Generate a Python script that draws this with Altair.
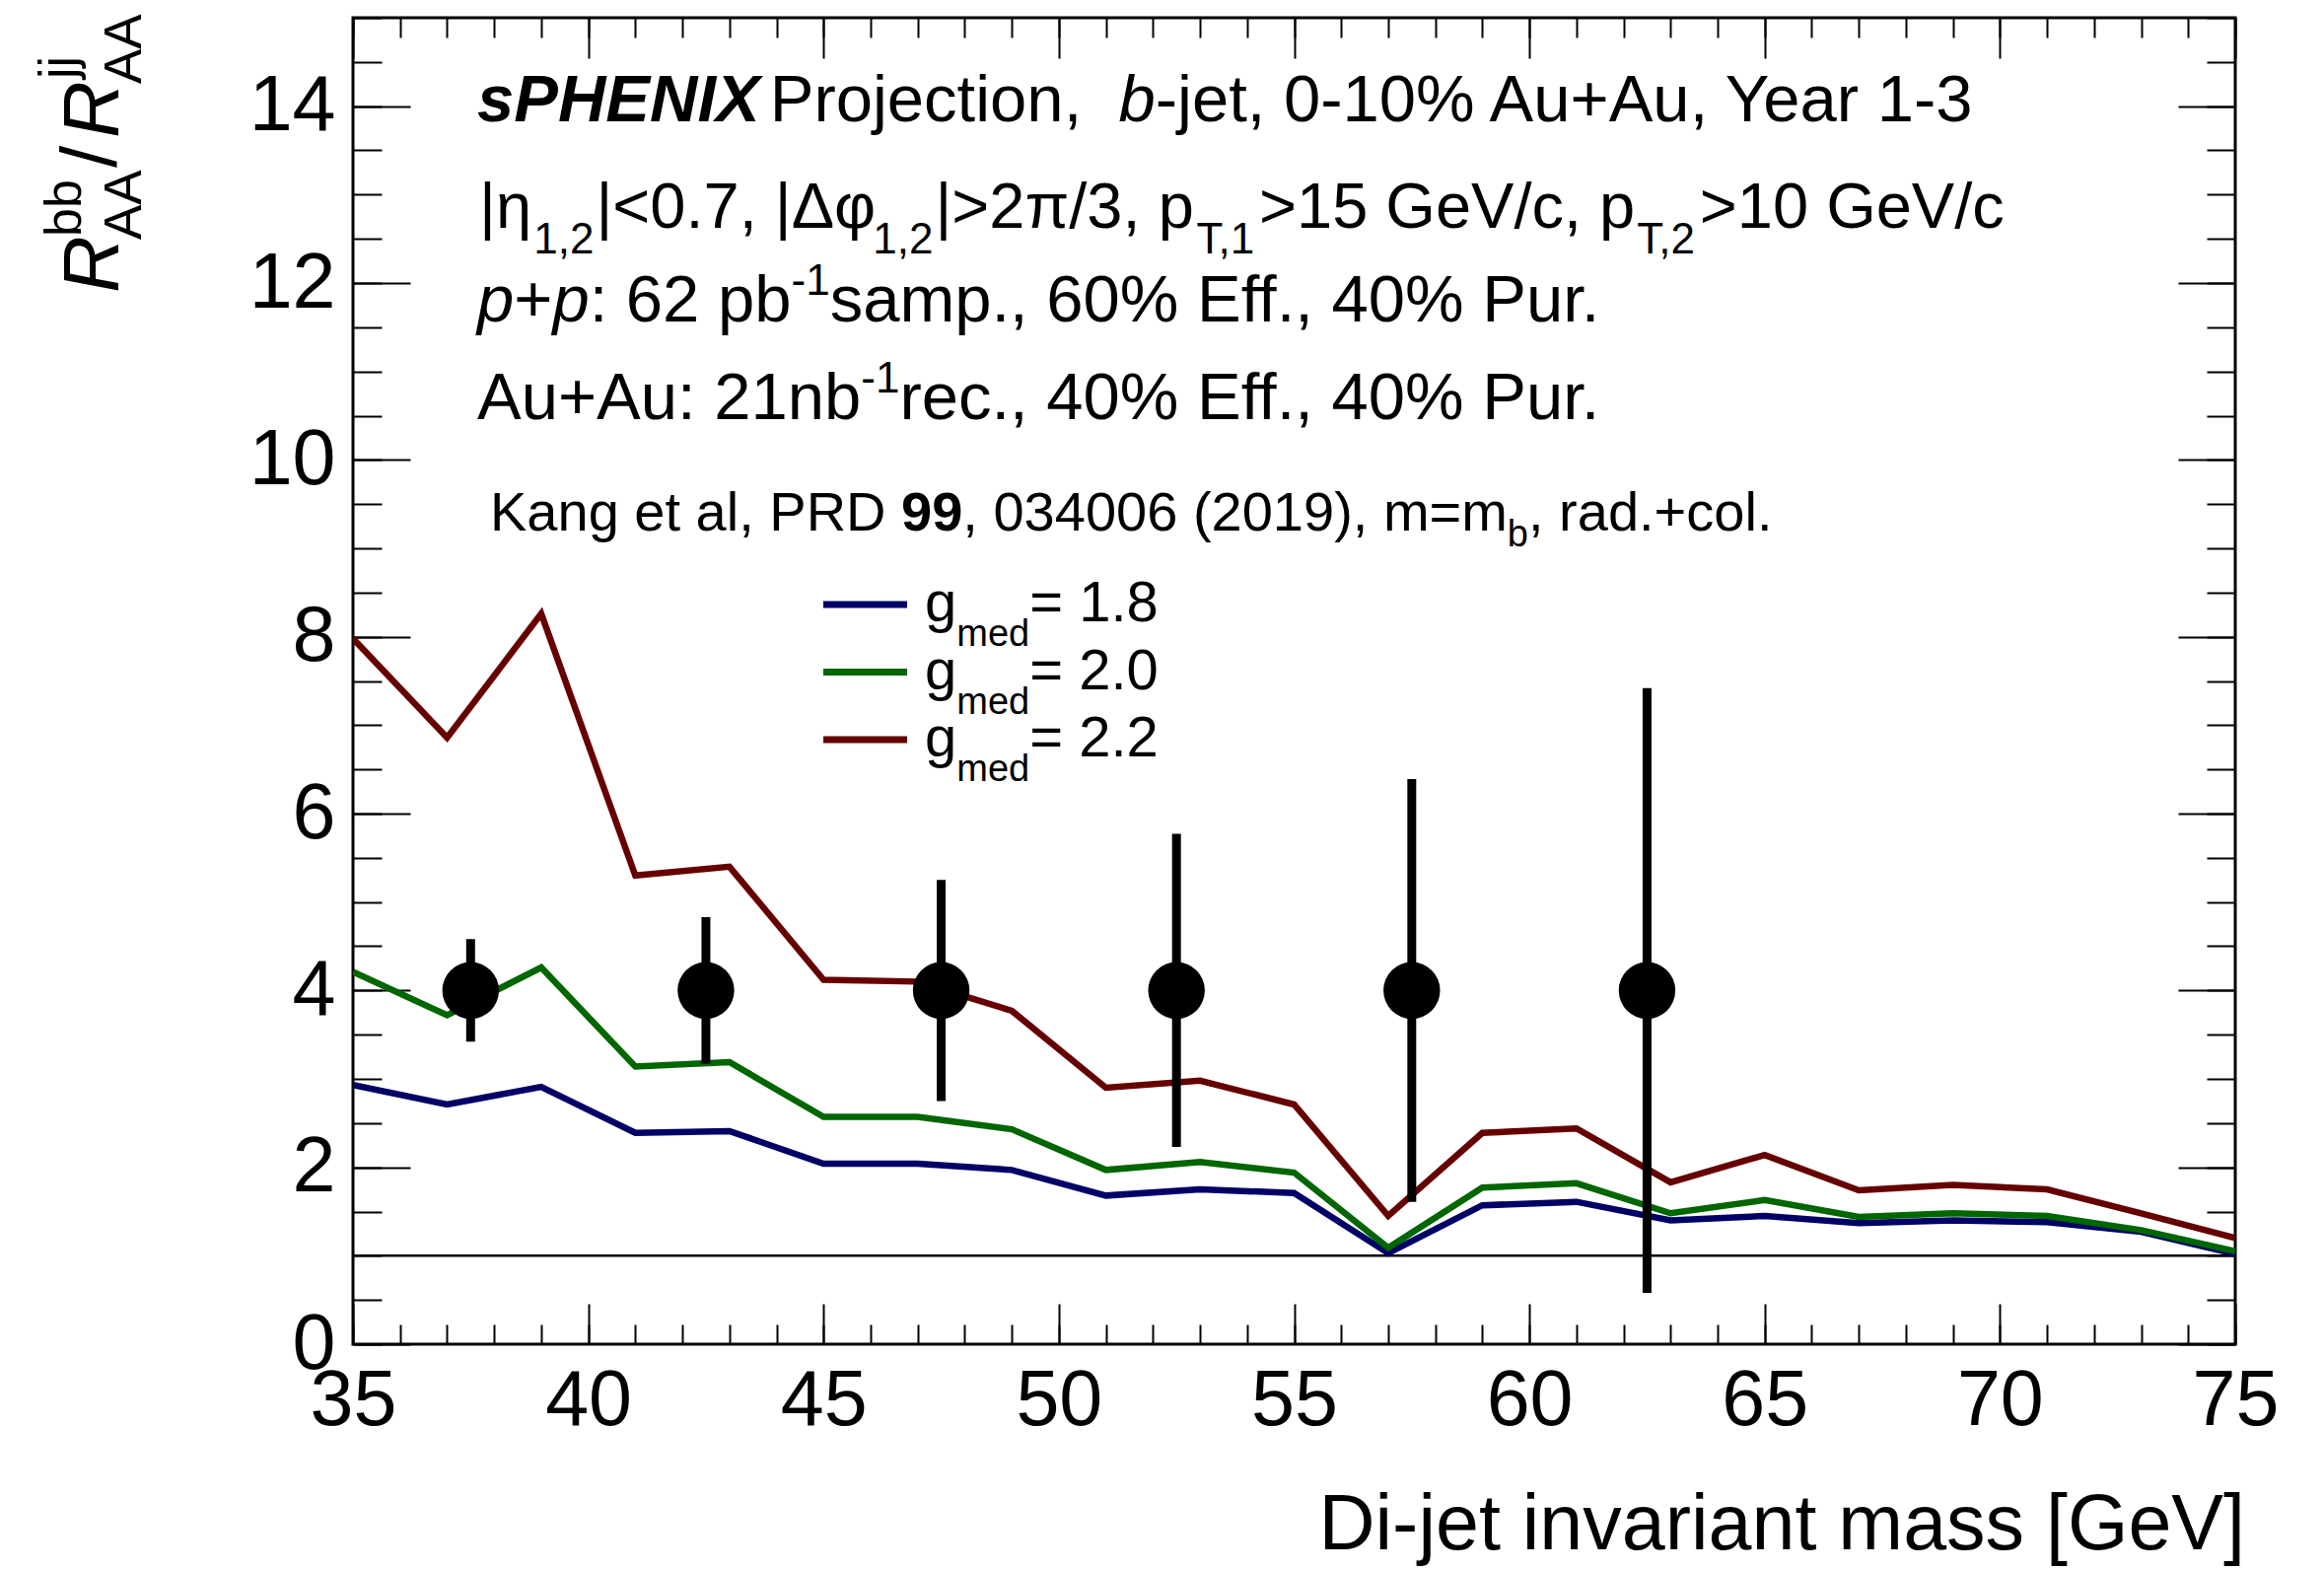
import altair as alt
import pandas as pd

# ---------------- data ----------------
mass = [35, 37, 39, 41, 43, 45, 47, 49, 51, 53, 55, 57, 59, 61, 63, 65, 67, 69, 71, 73, 75]
raa_g18 = [2.93, 2.71, 2.91, 2.39, 2.41, 2.04, 2.04, 1.97, 1.68, 1.75, 1.71, 1.03, 1.57, 1.61, 1.40, 1.45, 1.37, 1.40, 1.38, 1.27, 1.02]
raa_g20 = [4.21, 3.72, 4.26, 3.14, 3.19, 2.57, 2.57, 2.43, 1.97, 2.06, 1.94, 1.09, 1.77, 1.82, 1.48, 1.63, 1.44, 1.48, 1.45, 1.29, 1.05]
raa_g22 = [7.98, 6.86, 8.26, 5.30, 5.40, 4.12, 4.10, 3.77, 2.90, 2.98, 2.71, 1.45, 2.39, 2.44, 1.83, 2.14, 1.74, 1.80, 1.75, 1.48, 1.20]
series_names = ["g18", "g20", "g22"]
series_values = ["1.8", "2.0", "2.2"]
series_colors = ["#000066", "#006600", "#660000"]

proj_mass = [37.5, 42.5, 47.5, 52.5, 57.5, 62.5]
proj_value = [4.0, 4.0, 4.0, 4.0, 4.0, 4.0]
proj_err = [0.58, 0.83, 1.25, 1.77, 2.39, 3.42]

ref_level = [1.0]
x_domain = [35, 75]
y_domain = [0, 15]
x_major = [35, 40, 45, 50, 55, 60, 65, 70, 75]
x_minor = list(range(35, 76))
y_major = [0, 2, 4, 6, 8, 10, 12, 14]
y_minor = [v / 2 for v in range(0, 31)]

# ---------------- layout ----------------
FULL_W, FULL_H = 2357, 1592
OX, OY = 358, 18
W, H = 1909, 1345
FONT = "Liberation Sans"

xs = alt.Scale(domain=x_domain, nice=False, zero=False)
ys = alt.Scale(domain=y_domain, nice=False, zero=False)
pxs = alt.Scale(domain=[0, W], nice=False, zero=False)
pys = alt.Scale(domain=[0, H], nice=False, zero=False, reverse=True)

# Helvetica / Arial advance widths (1/1000 em)
W_N = {' ': 278, '%': 889, '(': 333, ')': 333, '+': 584, ',': 278, '-': 333, '.': 278, '/': 278,
       ':': 278, '<': 584, '=': 584, '>': 584, '[': 278, ']': 278, '|': 260,
       'A': 667, 'D': 722, 'E': 667, 'F': 611, 'G': 778, 'H': 722, 'I': 278, 'K': 667, 'N': 722,
       'P': 667, 'R': 722, 'T': 611, 'V': 667, 'X': 667, 'Y': 667,
       'a': 556, 'b': 556, 'c': 500, 'd': 556, 'e': 556, 'f': 278, 'g': 556, 'i': 222, 'j': 222,
       'l': 222, 'm': 833, 'n': 556, 'o': 556, 'p': 556, 'r': 333, 's': 500, 't': 278, 'u': 556,
       'v': 500, 'η': 560, 'Δ': 640, 'φ': 600, 'π': 700}
for d in "0123456789":
    W_N[d] = 556
W_B = dict(W_N)
W_B.update({'s': 556, 'P': 667, 'H': 722, 'E': 667, 'N': 722, 'I': 278, 'X': 667})


def tw(s, size, bold=False):
    tbl = W_B if bold else W_N
    return sum(tbl.get(c, 556) for c in s) * size / 1000.0


text_rows = []


def add_line(x0, y0, segs):
    x = x0
    for seg in segs:
        text, var, size, dy = seg[:4]
        x += seg[4] if len(seg) > 4 else 0
        bold = 'b' in var
        lead = len(text) - len(text.lstrip(' '))
        shown = text.strip(' ')
        if shown:
            text_rows.append(dict(px=x + tw(' ' * lead, size, bold) - OX, py=y0 + dy - OY,
                                  t=shown, s=size, v=var))
        x += tw(text, size, bold)


S = 67
S2 = 65
SUB = 44
add_line(484, 123, [("sPHENIX", "bi", S, 0), ("Projection,  ", "n", S, 0, 10), ("b", "i", S, 0),
                    ("-jet, 0-10% Au+Au, Year 1-3", "n", S, 0)])
add_line(486, 231, [("|η", "n", S2, 0), ("1,2", "n", SUB, 26, 2), ("|<0.7, |Δφ", "n", S2, 0, 2),
                    ("1,2", "n", SUB, 26, 2), ("|>2π/3, p", "n", S2, 0, 2), ("T,1", "n", SUB, 26, 2),
                    (">15 GeV/c, p", "n", S2, 0), ("T,2", "n", SUB, 26, 2), (">10 GeV/c", "n", S2, 0)])
add_line(484, 326, [("p", "i", S, 0), ("+", "n", S, 0), ("p", "i", S, 0), (": 62 pb", "n", S, 0),
                    ("-1", "n", SUB, -27), ("samp., 60% Eff., 40% Pur.", "n", S, 0)])
add_line(484, 425, [("Au+Au: 21nb", "n", S, 0), ("-1", "n", SUB, -27),
                    ("rec., 40% Eff., 40% Pur.", "n", S, 0)])
add_line(497, 538, [("Kang et al, PRD ", "n", 56, 0), ("99", "b", 56, 0),
                    (", 034006 (2019), m=m", "n", 56, 0), ("b", "n", 38, 16), (", rad.+col.", "n", 56, 0)])

# legend
leg_rows = []
for i, (val, col) in enumerate(zip(series_values, series_colors)):
    ly = 613 + 68.5 * i
    leg_rows.append(dict(px=835 - OX, px2=920 - OX, py=ly - OY, c=col))
    add_line(938, ly + 17, [("g", "n", 58, 0), ("med", "n", 38, 25), ("= " + val, "n", 58, 0)])

text_df = pd.DataFrame(text_rows)
leg_df = pd.DataFrame(leg_rows)

# rotated y title pieces (baseline x, start y in full px)
rot_rows = [
    dict(px=120 - OX, py=297 - OY, t="R", s=80, v="i"),
    dict(px=82 - OX, py=240 - OY, t="bb", s=52, v="n"),
    dict(px=143 - OX, py=243 - OY, t="AA", s=53, v="n"),
    dict(px=118 - OX, py=170 - OY, t="/", s=80, v="n"),
    dict(px=120 - OX, py=140 - OY, t="R", s=80, v="i"),
    dict(px=76 - OX, py=80 - OY, t="jj", s=52, v="n"),
    dict(px=143 - OX, py=85 - OY, t="AA", s=53, v="n"),
]
rot_df = pd.DataFrame(rot_rows)
xtitle_df = pd.DataFrame([dict(px=2277 - OX, py=1571 - OY, t="Di-jet invariant mass [GeV]", s=79)])

# ---------------- tables for marks ----------------
lines_df = pd.DataFrame({
    "mass": mass * 3,
    "ratio": raa_g18 + raa_g20 + raa_g22,
    "series": [series_names[0]] * len(mass) + [series_names[1]] * len(mass) + [series_names[2]] * len(mass),
})
proj_df = pd.DataFrame({"mass": proj_mass, "val": proj_value, "err": proj_err})
proj_df["lo"] = proj_df["val"] - proj_df["err"]
proj_df["hi"] = proj_df["val"] + proj_df["err"]
ref_df = pd.DataFrame({"y": ref_level, "x0": [x_domain[0]], "x1": [x_domain[1]]})


def tick_axis(orient, offset, values, size):
    return alt.Axis(orient=orient, offset=offset, values=values, tickSize=size, tickWidth=2,
                    tickColor="black", labels=False, domain=False, grid=False, title=None)


ax_x_labels = alt.Axis(orient="bottom", values=x_major, ticks=False, tickSize=0, labelPadding=19,
                       labelFontSize=79, labelFont=FONT, labelColor="black", labelFlush=False,
                       labelOverlap=False, domain=False, grid=False, title=None, format="d")
ax_y_labels = alt.Axis(orient="left", values=y_major, ticks=False, tickSize=0, labelPadding=18,
                       labelFontSize=79, labelFont=FONT, labelColor="black", labelFlush=False,
                       labelOverlap=False, domain=False, grid=False, title=None, format="d")

ref_line = alt.Chart(ref_df).mark_rule(strokeWidth=2.5, color="black").encode(
    x=alt.X("x0:Q", scale=xs, axis=tick_axis("bottom", -H, x_major, 41)),
    x2="x1:Q",
    y=alt.Y("y:Q", scale=ys, axis=tick_axis("left", -W, y_major, 58)),
)

theory = alt.Chart(lines_df).mark_line(strokeWidth=6.5, strokeJoin="miter", clip=True).encode(
    x=alt.X("mass:Q", scale=xs, axis=ax_x_labels),
    y=alt.Y("ratio:Q", scale=ys, axis=ax_y_labels),
    color=alt.Color("series:N", scale=alt.Scale(domain=series_names, range=series_colors), legend=None),
)

errbars = alt.Chart(proj_df).mark_rule(strokeWidth=9, color="black").encode(
    x=alt.X("mass:Q", scale=xs, axis=tick_axis("top", -H, x_major, 41)),
    y=alt.Y("lo:Q", scale=ys, axis=tick_axis("right", -W, y_major, 58)),
    y2="hi:Q",
)

points = alt.Chart(proj_df).mark_circle(size=3300, color="black", opacity=1).encode(
    x=alt.X("mass:Q", scale=xs, axis=tick_axis("top", -H, x_minor, 20)),
    y=alt.Y("val:Q", scale=ys, axis=tick_axis("right", -W, y_minor, 29)),
)

ghost = alt.Chart(proj_df).mark_point(opacity=0).encode(
    x=alt.X("mass:Q", scale=xs, axis=tick_axis("bottom", -H, x_minor, 20)),
    y=alt.Y("val:Q", scale=ys, axis=tick_axis("left", -W, y_minor, 29)),
)

layers = [ref_line, theory, errbars, points, ghost]

variants = {"n": dict(), "i": dict(fontStyle="italic"), "b": dict(fontWeight="bold"),
            "bi": dict(fontStyle="italic", fontWeight="bold")}
for v, style in variants.items():
    sub = text_df[text_df["v"] == v]
    if len(sub) == 0:
        continue
    layers.append(
        alt.Chart(sub).mark_text(align="left", baseline="alphabetic", font=FONT, color="black", **style).encode(
            x=alt.X("px:Q", scale=pxs, axis=None),
            y=alt.Y("py:Q", scale=pys, axis=None),
            text="t:N",
            size=alt.Size("s:Q", scale=None, legend=None),
        )
    )

for v, style in [("n", dict()), ("i", dict(fontStyle="italic"))]:
    sub = rot_df[rot_df["v"] == v]
    layers.append(
        alt.Chart(sub).mark_text(align="left", baseline="alphabetic", angle=270, font=FONT,
                                 color="black", **style).encode(
            x=alt.X("px:Q", scale=pxs, axis=None),
            y=alt.Y("py:Q", scale=pys, axis=None),
            text="t:N",
            size=alt.Size("s:Q", scale=None, legend=None),
        )
    )

layers.append(
    alt.Chart(xtitle_df).mark_text(align="right", baseline="alphabetic", font=FONT, color="black").encode(
        x=alt.X("px:Q", scale=pxs, axis=None),
        y=alt.Y("py:Q", scale=pys, axis=None),
        text="t:N",
        size=alt.Size("s:Q", scale=None, legend=None),
    )
)

layers.append(
    alt.Chart(leg_df).mark_rule(strokeWidth=7).encode(
        x=alt.X("px:Q", scale=pxs, axis=None),
        x2="px2:Q",
        y=alt.Y("py:Q", scale=pys, axis=None),
        color=alt.Color("c:N", scale=None, legend=None),
    )
)

chart = alt.layer(*layers).resolve_scale(
    x="independent", y="independent", color="independent", size="independent"
).properties(
    width=W, height=H,
    padding={"left": OX, "top": OY, "right": FULL_W - OX - W, "bottom": FULL_H - OY - H},
    autosize=alt.AutoSizeParams(type="none"),
    background="white",
).configure_view(stroke="black", strokeWidth=3)

chart.save("out.html", embed_options={"renderer": "svg", "actions": False})
